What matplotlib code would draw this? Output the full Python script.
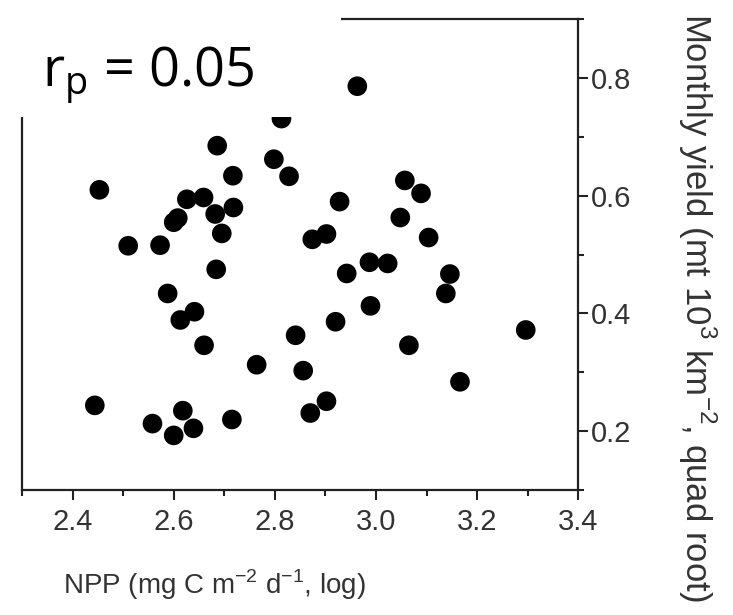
import numpy as np
import matplotlib
matplotlib.use('Agg')
import matplotlib.pyplot as plt
from matplotlib.ticker import MultipleLocator
from matplotlib.patches import Rectangle

plt.rcParams['font.family'] = ['Liberation Sans', 'DejaVu Sans']
plt.rcParams['mathtext.fontset'] = 'custom'
plt.rcParams['mathtext.rm'] = 'Liberation Sans'

# NPP (log) vs monthly yield (quad root)
npp = [2.453, 2.444, 2.510, 2.573, 2.600, 2.608, 2.626, 2.659, 2.682, 2.718,
       2.717, 2.686, 2.695, 2.798, 2.828, 2.813, 2.963, 2.928, 2.874, 2.902,
       3.057, 3.089, 3.048, 3.104, 2.684, 2.588, 2.613, 2.641, 2.660, 2.764,
       2.841, 2.856, 2.920, 2.942, 2.987, 3.023, 2.989, 3.146, 3.138, 3.065,
       3.166, 3.296, 2.558, 2.600, 2.618, 2.639, 2.715, 2.870, 2.902]
yld = [0.610, 0.244, 0.515, 0.516, 0.555, 0.562, 0.594, 0.597, 0.569, 0.580,
       0.634, 0.685, 0.536, 0.662, 0.633, 0.731, 0.786, 0.590, 0.526, 0.535,
       0.626, 0.604, 0.563, 0.529, 0.475, 0.434, 0.389, 0.403, 0.346, 0.313,
       0.363, 0.303, 0.386, 0.468, 0.487, 0.485, 0.413, 0.467, 0.434, 0.346,
       0.284, 0.372, 0.213, 0.193, 0.235, 0.205, 0.220, 0.231, 0.251]

xticks = [2.4, 2.6, 2.8, 3.0, 3.2, 3.4]
yticks = [0.2, 0.4, 0.6, 0.8]

fig = plt.figure(figsize=(7.33, 6.15), dpi=100)
ax = fig.add_axes([0.030, 0.203, 0.759, 0.766])

ax.scatter(npp, yld, s=200, c='black', edgecolors='none', zorder=3)

ax.set_xlim(2.3, 3.4)
ax.set_ylim(0.1, 0.9)
ax.set_xticks(xticks)
ax.set_xticklabels(['%.1f' % v for v in xticks])
ax.set_yticks(yticks)
ax.set_yticklabels(['%.1f' % v for v in yticks])
ax.xaxis.set_minor_locator(MultipleLocator(0.1))
ax.yaxis.set_minor_locator(MultipleLocator(0.1))

ax.yaxis.tick_right()
ax.tick_params(which='both', direction='out', width=1.5, color='#222222',
               labelsize=21, labelcolor='#333333')
ax.tick_params(which='major', length=7)
ax.tick_params(which='minor', length=4)
ax.tick_params(axis='x', which='major', pad=6)
ax.tick_params(axis='y', which='major', pad=2)
ax.tick_params(axis='y', which='both', left=False, right=True)
for sp in ax.spines.values():
    sp.set_linewidth(1.6)
    sp.set_color('#222222')

# y label on the right, reading top to bottom
fig.text(0.951, 0.50,
         r'Monthly yield (mt 10$^{\mathregular{3}}$ km$^{\mathregular{-2}}$, quad root)',
         rotation=-90, ha='center', va='center', fontsize=25, color='#333333')
fig.text(0.293, 0.049, r'NPP (mg C m$^{\mathregular{-2}}$ d$^{\mathregular{-1}}$, log)',
         ha='center', va='center', fontsize=20, color='#333333')

# white box with the correlation coefficient, covering the frame corner
fig.patches.append(Rectangle((0.027, 0.810), 0.438, 0.163, transform=fig.transFigure,
                             facecolor='white', edgecolor='none', zorder=5))
fig.text(0.057, 0.877, r'r$_{\mathregular{p}}$ = 0.05', ha='left', va='center',
         fontsize=39, color='black', family=['Open Sans', 'DejaVu Sans'], zorder=6)

fig.savefig('out.png', dpi=100)
